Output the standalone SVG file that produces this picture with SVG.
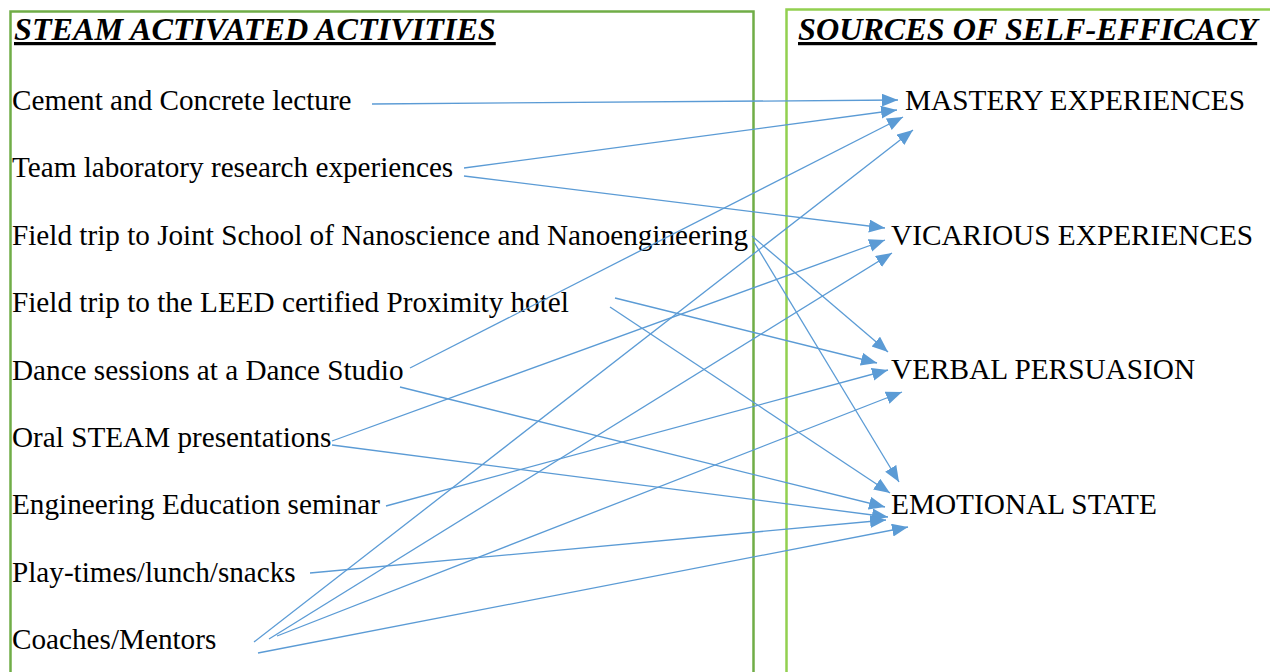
<svg xmlns="http://www.w3.org/2000/svg" width="1270" height="672" viewBox="0 0 1270 672">
<style>
.hdr{font-family:"Liberation Serif","Times New Roman",serif;font-size:32.2px;font-weight:bold;font-style:italic;text-decoration:underline;fill:#000}
.item{font-family:"Liberation Serif","Times New Roman",serif;font-size:29.2px;fill:#000}
.src{font-family:"Liberation Serif","Times New Roman",serif;font-size:29.3px;fill:#000}
.conn line{stroke:#5B9BD5;stroke-width:1.3;fill:none;marker-end:url(#ah)}
</style>
<defs>
<marker id="ah" markerUnits="userSpaceOnUse" markerWidth="18" markerHeight="14" refX="16" refY="6.5" orient="auto">
<path d="M0,0 L16,6.5 L0,13 z" fill="#5B9BD5"/>
</marker>
</defs>
<rect width="1270" height="672" fill="#fff"/>
<g id="left-panel">
<path d="M10.5,690 V11.5 H753.5 V690" fill="none" stroke="#70AD47" stroke-width="2.5"/>
<text class="hdr" x="14" y="40">STEAM ACTIVATED ACTIVITIES</text>
</g>
<g id="right-panel">
<path d="M786.5,690 V9.5 H1280" fill="none" stroke="#92D050" stroke-width="2.5"/>
<text class="hdr" x="798" y="40">SOURCES OF SELF-EFFICACY</text>
</g>
<g id="a1"><text class="item" x="12" y="110">Cement and Concrete lecture</text></g>
<g id="a2"><text class="item" x="12" y="177">Team laboratory research experiences</text></g>
<g id="a3"><text class="item" x="12" y="245">Field trip to Joint School of Nanoscience and Nanoengineering</text></g>
<g id="a4"><text class="item" x="12" y="312">Field trip to the LEED certified Proximity hotel</text></g>
<g id="a5"><text class="item" x="12" y="380">Dance sessions at a Dance Studio</text></g>
<g id="a6"><text class="item" x="12" y="447">Oral STEAM presentations</text></g>
<g id="a7"><text class="item" x="12" y="514">Engineering Education seminar</text></g>
<g id="a8"><text class="item" x="12" y="582">Play-times/lunch/snacks</text></g>
<g id="a9"><text class="item" x="12" y="649">Coaches/Mentors</text></g>
<g id="s1"><text class="src" x="905" y="110">MASTERY EXPERIENCES</text></g>
<g id="s2"><text class="src" x="891" y="245">VICARIOUS EXPERIENCES</text></g>
<g id="s3"><text class="src" x="891" y="379">VERBAL PERSUASION</text></g>
<g id="s4"><text class="src" x="891" y="514">EMOTIONAL STATE</text></g>
<g id="connectors" class="conn">
<line x1="372" y1="104" x2="898" y2="100"/>
<line x1="464" y1="168" x2="897" y2="110"/>
<line x1="464" y1="176" x2="885" y2="228"/>
<line x1="752" y1="236" x2="888" y2="352"/>
<line x1="754" y1="242" x2="899" y2="482"/>
<line x1="615" y1="298" x2="877" y2="363"/>
<line x1="610" y1="307" x2="890" y2="493"/>
<line x1="410" y1="368" x2="903" y2="117"/>
<line x1="400" y1="387" x2="885" y2="507"/>
<line x1="332" y1="441" x2="885" y2="240"/>
<line x1="332" y1="445" x2="888" y2="517"/>
<line x1="386" y1="506" x2="888" y2="370"/>
<line x1="310" y1="573" x2="886" y2="520"/>
<line x1="254" y1="642" x2="913" y2="130"/>
<line x1="269" y1="639" x2="892" y2="253"/>
<line x1="277" y1="636" x2="902" y2="392"/>
<line x1="258" y1="653" x2="908" y2="527"/>
</g>
</svg>
